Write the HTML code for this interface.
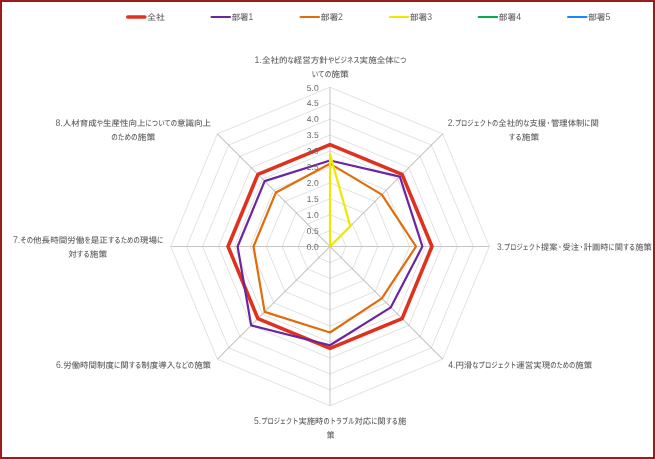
<!DOCTYPE html>
<html lang="ja">
<head>
<meta charset="utf-8">
<title>レーダーチャート</title>
<style>
html,body{margin:0;padding:0;background:#fff;}
body{width:655px;height:459px;overflow:hidden;font-family:"Liberation Sans","Noto Sans CJK JP",sans-serif;}
svg{display:block;}
text{text-rendering:geometricPrecision;}
.n{font-size:9.7px;}
</style>
</head>
<body>
<svg width="655" height="459" viewBox="0 0 655 459">
<rect x="0" y="0" width="655" height="459" fill="#ffffff"/>
<g fill="none" stroke="#d0d0d0" stroke-width="0.65">
<polygon points="330.00,230.57 341.26,235.24 345.93,246.50 341.26,257.76 330.00,262.43 318.74,257.76 314.07,246.50 318.74,235.24"/>
<polygon points="330.00,214.64 352.53,223.97 361.86,246.50 352.53,269.03 330.00,278.36 307.47,269.03 298.14,246.50 307.47,223.97"/>
<polygon points="330.00,198.71 363.79,212.71 377.79,246.50 363.79,280.29 330.00,294.29 296.21,280.29 282.21,246.50 296.21,212.71"/>
<polygon points="330.00,182.78 375.06,201.44 393.72,246.50 375.06,291.56 330.00,310.22 284.94,291.56 266.28,246.50 284.94,201.44"/>
<polygon points="330.00,166.85 386.32,190.18 409.65,246.50 386.32,302.82 330.00,326.15 273.68,302.82 250.35,246.50 273.68,190.18"/>
<polygon points="330.00,150.92 397.59,178.91 425.58,246.50 397.59,314.09 330.00,342.08 262.41,314.09 234.42,246.50 262.41,178.91"/>
<polygon points="330.00,134.99 408.85,167.65 441.51,246.50 408.85,325.35 330.00,358.01 251.15,325.35 218.49,246.50 251.15,167.65"/>
<polygon points="330.00,119.06 420.11,156.39 457.44,246.50 420.11,336.61 330.00,373.94 239.89,336.61 202.56,246.50 239.89,156.39"/>
<polygon points="330.00,103.13 431.38,145.12 473.37,246.50 431.38,347.88 330.00,389.87 228.62,347.88 186.63,246.50 228.62,145.12"/>
<polygon points="330.00,87.20 442.64,133.86 489.30,246.50 442.64,359.14 330.00,405.80 217.36,359.14 170.70,246.50 217.36,133.86"/>
</g>
<g>
<line x1="330.00" y1="246.50" x2="330.00" y2="87.20" stroke="#c4c4c4" stroke-width="1"/>
<line x1="330.00" y1="246.50" x2="442.64" y2="133.86" stroke="#8c8c8c" stroke-width="0.75"/>
<line x1="330.00" y1="246.50" x2="489.30" y2="246.50" stroke="#c4c4c4" stroke-width="1"/>
<line x1="330.00" y1="246.50" x2="442.64" y2="359.14" stroke="#8c8c8c" stroke-width="0.75"/>
<line x1="330.00" y1="246.50" x2="330.00" y2="405.80" stroke="#c4c4c4" stroke-width="1"/>
<line x1="330.00" y1="246.50" x2="217.36" y2="359.14" stroke="#8c8c8c" stroke-width="0.75"/>
<line x1="330.00" y1="246.50" x2="170.70" y2="246.50" stroke="#c4c4c4" stroke-width="1"/>
<line x1="330.00" y1="246.50" x2="217.36" y2="133.86" stroke="#8c8c8c" stroke-width="0.75"/>
</g>
<g fill="none" stroke-linejoin="round" stroke-linecap="round">
<polygon points="330.00,144.55 402.09,174.41 431.95,246.50 402.09,318.59 330.00,348.45 257.91,318.59 228.05,246.50 257.91,174.41" stroke="#e0301e" stroke-width="3.6"/>
<polygon points="330.00,160.48 399.84,176.66 422.39,246.50 390.83,307.33 330.00,345.27 251.15,325.35 237.61,246.50 264.67,181.17" stroke="#6a26a0" stroke-width="2.2"/>
<polygon points="330.00,163.66 381.82,194.68 416.02,246.50 381.82,298.32 330.00,332.52 264.67,311.83 253.54,246.50 275.93,192.43" stroke="#e36c0a" stroke-width="2.2"/>
<polygon points="330.00,154.11 350.28,226.22 330.00,246.50 330.00,246.50 330.00,246.50 330.00,246.50 330.00,246.50 330.00,246.50" stroke="#eee800" stroke-width="2.2"/>
</g>
<g font-family="'Liberation Sans', 'Noto Sans CJK JP', sans-serif" font-size="8.5" fill="#666666" text-anchor="end">
<text x="318.7" y="250">0.0</text>
<text x="318.7" y="234">0.5</text>
<text x="318.7" y="218">1.0</text>
<text x="318.7" y="202">1.5</text>
<text x="318.7" y="186">2.0</text>
<text x="318.7" y="170">2.5</text>
<text x="318.7" y="154">3.0</text>
<text x="318.7" y="138">3.5</text>
<text x="318.7" y="122">4.0</text>
<text x="318.7" y="106">4.5</text>
<text x="318.7" y="91">5.0</text>
</g>
<g font-family="'Liberation Sans', 'Noto Sans CJK JP', sans-serif" font-size="8.1" font-weight="500" fill="#666666">
<text x="254.6" y="63.00"><tspan class="n" textLength="7.31" lengthAdjust="spacingAndGlyphs">1.</tspan><tspan textLength="25.55" lengthAdjust="spacingAndGlyphs">全社的</tspan><tspan textLength="6.35" lengthAdjust="spacingAndGlyphs">な</tspan><tspan textLength="34.07" lengthAdjust="spacingAndGlyphs">経営方針</tspan><tspan textLength="31.75" lengthAdjust="spacingAndGlyphs">やビジネス</tspan><tspan textLength="34.07" lengthAdjust="spacingAndGlyphs">実施全体</tspan><tspan textLength="12.70" lengthAdjust="spacingAndGlyphs">につ</tspan></text>
<text x="311.7" y="77.00"><tspan textLength="19.59" lengthAdjust="spacingAndGlyphs">いての</tspan><tspan textLength="17.51" lengthAdjust="spacingAndGlyphs">施策</tspan></text>
<text x="447.8" y="126.00"><tspan class="n" textLength="7.13" lengthAdjust="spacingAndGlyphs">2.</tspan><tspan textLength="43.40" lengthAdjust="spacingAndGlyphs">プロジェクトの</tspan><tspan textLength="24.95" lengthAdjust="spacingAndGlyphs">全社的</tspan><tspan textLength="6.20" lengthAdjust="spacingAndGlyphs">な</tspan><tspan textLength="16.63" lengthAdjust="spacingAndGlyphs">支援</tspan><tspan textLength="4.92" lengthAdjust="spacingAndGlyphs">・</tspan><tspan textLength="33.26" lengthAdjust="spacingAndGlyphs">管理体制</tspan><tspan textLength="6.20" lengthAdjust="spacingAndGlyphs">に</tspan><tspan textLength="8.32" lengthAdjust="spacingAndGlyphs">関</tspan></text>
<text x="508.8" y="140.00"><tspan textLength="12.94" lengthAdjust="spacingAndGlyphs">する</tspan><tspan textLength="17.36" lengthAdjust="spacingAndGlyphs">施策</tspan></text>
<text x="497.0" y="250.00"><tspan class="n" textLength="7.08" lengthAdjust="spacingAndGlyphs">3.</tspan><tspan textLength="36.93" lengthAdjust="spacingAndGlyphs">プロジェクト</tspan><tspan textLength="16.51" lengthAdjust="spacingAndGlyphs">提案</tspan><tspan textLength="4.88" lengthAdjust="spacingAndGlyphs">・</tspan><tspan textLength="16.51" lengthAdjust="spacingAndGlyphs">受注</tspan><tspan textLength="4.88" lengthAdjust="spacingAndGlyphs">・</tspan><tspan textLength="24.77" lengthAdjust="spacingAndGlyphs">計画時</tspan><tspan textLength="6.15" lengthAdjust="spacingAndGlyphs">に</tspan><tspan textLength="8.26" lengthAdjust="spacingAndGlyphs">関</tspan><tspan textLength="12.31" lengthAdjust="spacingAndGlyphs">する</tspan><tspan textLength="16.51" lengthAdjust="spacingAndGlyphs">施策</tspan></text>
<text x="448.2" y="368.00"><tspan class="n" textLength="7.24" lengthAdjust="spacingAndGlyphs">4.</tspan><tspan textLength="16.88" lengthAdjust="spacingAndGlyphs">円滑</tspan><tspan textLength="44.05" lengthAdjust="spacingAndGlyphs">なプロジェクト</tspan><tspan textLength="33.76" lengthAdjust="spacingAndGlyphs">運営実現</tspan><tspan textLength="25.17" lengthAdjust="spacingAndGlyphs">のための</tspan><tspan textLength="16.88" lengthAdjust="spacingAndGlyphs">施策</tspan></text>
<text x="254.1" y="424.00"><tspan class="n" textLength="7.14" lengthAdjust="spacingAndGlyphs">5.</tspan><tspan textLength="37.24" lengthAdjust="spacingAndGlyphs">プロジェクト</tspan><tspan textLength="24.97" lengthAdjust="spacingAndGlyphs">実施時</tspan><tspan textLength="31.03" lengthAdjust="spacingAndGlyphs">のトラブル</tspan><tspan textLength="16.65" lengthAdjust="spacingAndGlyphs">対応</tspan><tspan textLength="6.21" lengthAdjust="spacingAndGlyphs">に</tspan><tspan textLength="8.32" lengthAdjust="spacingAndGlyphs">関</tspan><tspan textLength="12.41" lengthAdjust="spacingAndGlyphs">する</tspan><tspan textLength="8.32" lengthAdjust="spacingAndGlyphs">施</tspan></text>
<text x="326.8" y="438.00"><tspan textLength="7.70" lengthAdjust="spacingAndGlyphs">策</tspan></text>
<text x="55.9" y="368.00"><tspan class="n" textLength="7.26" lengthAdjust="spacingAndGlyphs">6.</tspan><tspan textLength="50.80" lengthAdjust="spacingAndGlyphs">労働時間制度</tspan><tspan textLength="6.31" lengthAdjust="spacingAndGlyphs">に</tspan><tspan textLength="8.47" lengthAdjust="spacingAndGlyphs">関</tspan><tspan textLength="12.62" lengthAdjust="spacingAndGlyphs">する</tspan><tspan textLength="33.87" lengthAdjust="spacingAndGlyphs">制度導入</tspan><tspan textLength="18.94" lengthAdjust="spacingAndGlyphs">などの</tspan><tspan textLength="16.93" lengthAdjust="spacingAndGlyphs">施策</tspan></text>
<text x="12.9" y="243.00"><tspan class="n" textLength="7.35" lengthAdjust="spacingAndGlyphs">7.</tspan><tspan textLength="12.77" lengthAdjust="spacingAndGlyphs">その</tspan><tspan textLength="51.40" lengthAdjust="spacingAndGlyphs">他長時間労働</tspan><tspan textLength="6.39" lengthAdjust="spacingAndGlyphs">を</tspan><tspan textLength="17.13" lengthAdjust="spacingAndGlyphs">是正</tspan><tspan textLength="31.93" lengthAdjust="spacingAndGlyphs">するための</tspan><tspan textLength="17.13" lengthAdjust="spacingAndGlyphs">現場</tspan><tspan textLength="6.39" lengthAdjust="spacingAndGlyphs">に</tspan></text>
<text x="68.2" y="257.00"><tspan textLength="8.66" lengthAdjust="spacingAndGlyphs">対</tspan><tspan textLength="12.92" lengthAdjust="spacingAndGlyphs">する</tspan><tspan textLength="17.32" lengthAdjust="spacingAndGlyphs">施策</tspan></text>
<text x="55.4" y="126.00"><tspan class="n" textLength="7.29" lengthAdjust="spacingAndGlyphs">8.</tspan><tspan textLength="33.97" lengthAdjust="spacingAndGlyphs">人材育成</tspan><tspan textLength="6.33" lengthAdjust="spacingAndGlyphs">や</tspan><tspan textLength="42.47" lengthAdjust="spacingAndGlyphs">生産性向上</tspan><tspan textLength="31.66" lengthAdjust="spacingAndGlyphs">についての</tspan><tspan textLength="33.97" lengthAdjust="spacingAndGlyphs">意識向上</tspan></text>
<text x="111.2" y="140.00"><tspan textLength="26.40" lengthAdjust="spacingAndGlyphs">のための</tspan><tspan textLength="17.70" lengthAdjust="spacingAndGlyphs">施策</tspan></text>
</g>
<g font-family="'Liberation Sans', 'Noto Sans CJK JP', sans-serif" font-size="8.1" font-weight="500" fill="#666666">
<line x1="127.8" y1="17" x2="144.8" y2="17" stroke="#e0301e" stroke-width="3.6" stroke-linecap="round"/>
<text x="147.2" y="20.00"><tspan textLength="17.60" lengthAdjust="spacingAndGlyphs">全社</tspan></text>
<line x1="211.6" y1="17" x2="230.0" y2="17" stroke="#6a26a0" stroke-width="2.2" stroke-linecap="round"/>
<text x="231.7" y="20.00"><tspan textLength="16.78" lengthAdjust="spacingAndGlyphs">部署</tspan><tspan class="n" textLength="4.72" lengthAdjust="spacingAndGlyphs">1</tspan></text>
<line x1="300.6" y1="17" x2="319.0" y2="17" stroke="#e36c0a" stroke-width="2.2" stroke-linecap="round"/>
<text x="320.7" y="20.00"><tspan textLength="17.41" lengthAdjust="spacingAndGlyphs">部署</tspan><tspan class="n" textLength="4.89" lengthAdjust="spacingAndGlyphs">2</tspan></text>
<line x1="389.9" y1="17" x2="408.3" y2="17" stroke="#eee800" stroke-width="2.2" stroke-linecap="round"/>
<text x="410.0" y="20.00"><tspan textLength="17.17" lengthAdjust="spacingAndGlyphs">部署</tspan><tspan class="n" textLength="4.83" lengthAdjust="spacingAndGlyphs">3</tspan></text>
<line x1="478.7" y1="17" x2="497.1" y2="17" stroke="#00b050" stroke-width="2.2" stroke-linecap="round"/>
<text x="498.8" y="20.00"><tspan textLength="17.33" lengthAdjust="spacingAndGlyphs">部署</tspan><tspan class="n" textLength="4.87" lengthAdjust="spacingAndGlyphs">4</tspan></text>
<line x1="568.1" y1="17" x2="586.5" y2="17" stroke="#1489ff" stroke-width="2.2" stroke-linecap="round"/>
<text x="588.2" y="20.00"><tspan textLength="17.25" lengthAdjust="spacingAndGlyphs">部署</tspan><tspan class="n" textLength="4.85" lengthAdjust="spacingAndGlyphs">5</tspan></text>
</g>
<rect x="1" y="1" width="653" height="457" fill="none" stroke="#a01818" stroke-width="2"/>
</svg>
</body>
</html>
